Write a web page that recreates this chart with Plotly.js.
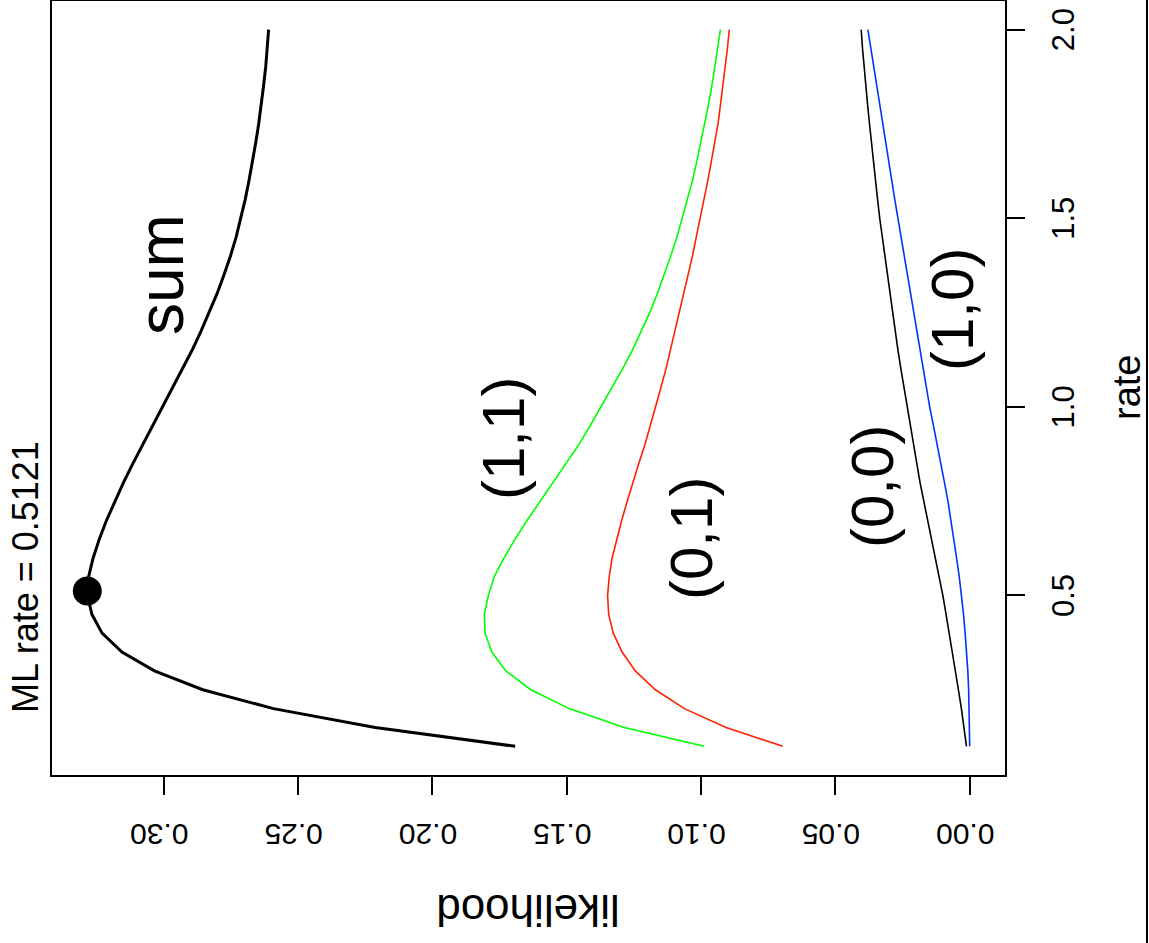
<!DOCTYPE html>
<html>
<head>
<meta charset="utf-8">
<script src="https://cdn.plot.ly/plotly-3.0.1.min.js"></script>
<style>
  html, body { margin: 0; padding: 0; background: #ffffff; overflow: hidden; width: 1149px; height: 943px; }
  #wrap { position: absolute; left: 0; top: 0; width: 1149px; height: 943px; overflow: hidden; }
  #plot { position: absolute; left: 0; top: 0; width: 943px; height: 1149px;
          transform-origin: 0 0; transform: translate(0px, 943px) rotate(-90deg); }
</style>
</head>
<body>
<div id="wrap"><div id="plot"></div></div>
<script>
// ---- data ----
const rate = [0.10,0.15,0.20,0.25,0.30,0.35,0.40,0.45,0.50,0.55,0.60,0.65,0.70,0.75,0.80,0.85,0.90,0.95,1.00,
              1.05,1.10,1.15,1.20,1.25,1.30,1.35,1.40,1.45,1.50,1.55,1.60,1.65,1.70,1.75,1.80,1.85,1.90,1.95,2.00];
const likSum = [0.1692,0.2213,0.2592,0.2855,0.3035,0.3156,0.3230,0.3268,0.3284,0.3280,0.3263,0.3240,0.3213,
                0.3183,0.3150,0.3115,0.3078,0.3041,0.3004,0.2967,0.2930,0.2895,0.2862,0.2831,0.2802,0.2776,
                0.2752,0.2731,0.2713,0.2697,0.2683,0.2670,0.2658,0.2647,0.2637,0.2629,0.2621,0.2615,0.2610];
const lik11 = [0.0988,0.1286,0.1491,0.1634,0.1727,0.1779,0.1804,0.1807,0.1792,0.1770,0.1733,0.1692,0.1647,
               0.1599,0.1551,0.1502,0.1455,0.1413,0.1372,0.1331,0.1293,0.1256,0.1223,0.1191,0.1163,0.1137,
               0.1113,0.1090,0.1070,0.1051,0.1032,0.1016,0.1001,0.0986,0.0973,0.0960,0.0949,0.0937,0.0928];
const lik01 = [0.0696,0.0907,0.1062,0.1170,0.1245,0.1294,0.1327,0.1344,0.1348,0.1342,0.1331,0.1314,0.1295,
               0.1275,0.1254,0.1232,0.1209,0.1189,0.1168,0.1150,0.1131,0.1114,0.1098,0.1081,0.1064,0.1047,
               0.1032,0.1018,0.1003,0.0988,0.0975,0.0962,0.0949,0.0937,0.0928,0.0919,0.0909,0.0902,0.0895];
const lik00 = [0.0012,0.0021,0.0031,0.0042,0.0053,0.0065,0.0076,0.0088,0.0100,0.0114,0.0128,0.0142,0.0157,
               0.0172,0.0185,0.0197,0.0209,0.0222,0.0234,0.0245,0.0256,0.0267,0.0277,0.0287,0.0297,0.0307,
               0.0316,0.0326,0.0335,0.0343,0.0351,0.0358,0.0366,0.0373,0.0380,0.0387,0.0393,0.0399,0.0404];
const lik10 = [0.0000,0.0001,0.0002,0.0004,0.0007,0.0011,0.0017,0.0023,0.0030,0.0039,0.0049,0.0059,0.0070,
               0.0081,0.0094,0.0107,0.0121,0.0135,0.0149,0.0161,0.0173,0.0185,0.0197,0.0209,0.0221,0.0233,
               0.0245,0.0256,0.0268,0.0279,0.0290,0.0301,0.0312,0.0323,0.0335,0.0346,0.0357,0.0368,0.0379];
const mlRate = 0.5121;
const mlLik = 0.3285;
const rateTicks = [0.5, 1.0, 1.5, 2.0];
const rateTickText = ["0.5", "1.0", "1.5", "2.0"];
const likTicks = [0.00, 0.05, 0.10, 0.15, 0.20, 0.25, 0.30];
const likTickText = ["0.00", "0.05", "0.10", "0.15", "0.20", "0.25", "0.30"];
const curveLabels = ["sum", "(1,1)", "(0,1)", "(0,0)", "(1,0)"];
const labelRate = [1.35, 0.915, 0.65, 0.788, 1.258];
const labelLik = [0.301, 0.1735, 0.1035, 0.0362, 0.0064];
const titleText = "ML rate = 0.5121";

// ---- chart ----
const FONT = "Liberation Sans, Arial, Helvetica, sans-serif";
const traces = [
  {x: rate, y: likSum, mode: "lines", line: {color: "#000000", width: 3}, name: "sum"},
  {x: rate, y: lik11, mode: "lines", line: {color: "#00ff00", width: 1.6}, name: "(1,1)"},
  {x: rate, y: lik01, mode: "lines", line: {color: "#ff2200", width: 1.6}, name: "(0,1)"},
  {x: rate, y: lik00, mode: "lines", line: {color: "#000000", width: 1.6}, name: "(0,0)"},
  {x: rate, y: lik10, mode: "lines", line: {color: "#0033ff", width: 1.6}, name: "(1,0)"},
  {x: [mlRate], y: [mlLik], mode: "markers", marker: {color: "#000000", size: 29}, name: "ML"}
];

const labelSizes = [64, 60, 60, 60, 60];
const annotations = curveLabels.map((t, i) => ({
  x: labelRate[i], y: labelLik[i], xref: "x", yref: "y", text: t, showarrow: false,
  xanchor: "center", yanchor: "middle", font: {family: FONT, size: labelSizes[i], color: "#000000"}
}));
annotations.push({x: 0.2555, y: 1.028, xref: "paper", yref: "paper", text: titleText, showarrow: false,
  xanchor: "center", yanchor: "middle", font: {family: FONT, size: 36, color: "#000000"}});
annotations.push({x: 0.5, y: -0.1285, xref: "paper", yref: "paper", text: "rate", showarrow: false,
  xanchor: "center", yanchor: "middle", font: {family: FONT, size: 38, color: "#000000"}});
annotations.push({x: -0.1755, y: 0.5, xref: "paper", yref: "paper", text: "likelihood", showarrow: false,
  textangle: -90, xanchor: "center", yanchor: "middle", font: {family: FONT, size: 44, color: "#000000"}});

const layout = {
  width: 943, height: 1149,
  margin: {l: 168, r: 1, t: 52, b: 144, pad: 0},
  paper_bgcolor: "#ffffff", plot_bgcolor: "#ffffff",
  showlegend: false,
  font: {family: FONT, color: "#000000"},
  xaxis: {
    range: [0.024, 2.076], tickmode: "array", tickvals: rateTicks, ticktext: rateTickText,
    ticks: "outside", ticklen: 18, tickwidth: 2, tickcolor: "#000000",
    showline: true, linewidth: 2, linecolor: "#000000", mirror: true,
    showgrid: false, zeroline: false, tickfont: {family: FONT, size: 31, color: "#000000"},
    ticklabelstandoff: 12
  },
  yaxis: {
    range: [-0.01314, 0.34164], tickmode: "array", tickvals: likTicks, ticktext: likTickText,
    ticks: "outside", ticklen: 18, tickwidth: 2, tickcolor: "#000000", tickangle: -90,
    showline: true, linewidth: 2, linecolor: "#000000", mirror: true,
    showgrid: false, zeroline: false, tickfont: {family: FONT, size: 30, color: "#000000"},
    ticklabelstandoff: 17
  },
  annotations: annotations,
  shapes: [
    {type: "line", xref: "paper", yref: "paper", x0: -0.3, x1: 1.3, y0: -0.149, y1: -0.149,
     line: {color: "#000000", width: 2}}
  ]
};

Plotly.newPlot("plot", traces, layout, {staticPlot: true, displayModeBar: false, responsive: false});
</script>
</body>
</html>
